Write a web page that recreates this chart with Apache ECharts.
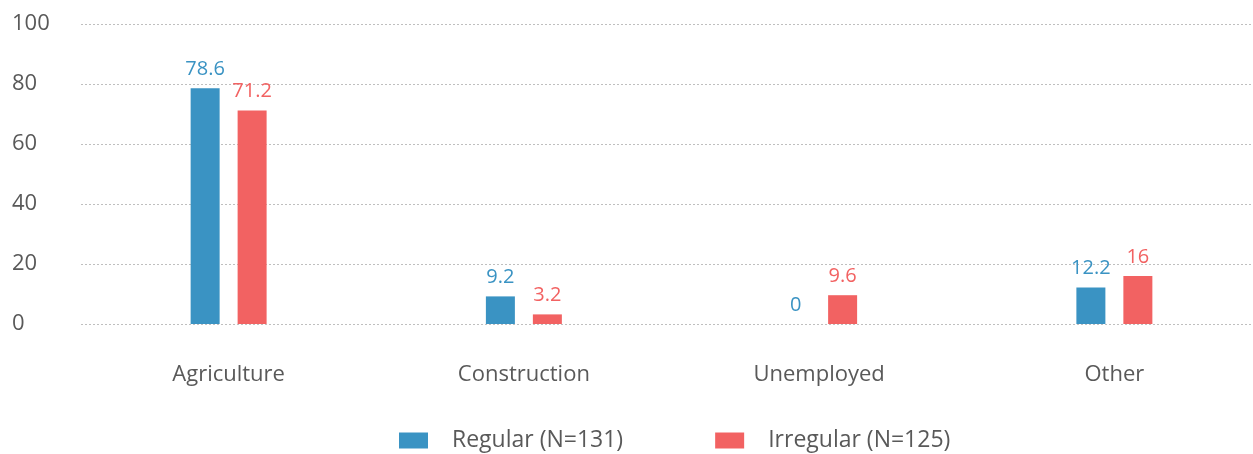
<!DOCTYPE html>
<html>
<head>
<meta charset="utf-8">
<script src="https://cdn.jsdelivr.net/npm/echarts@6/dist/echarts.min.js"></script>
<style>
html, body { margin: 0; padding: 0; background: #fff; }
#chart { width: 1253px; height: 454px; }
</style>
</head>
<body>
<div id="chart"></div>
<script>
var categories = ['Agriculture', 'Construction', 'Unemployed', 'Other'];
var regular = [78.6, 9.2, 0, 12.2];
var irregular = [71.2, 3.2, 9.6, 16];
var seriesNames = ['Regular (N=131)', 'Irregular (N=125)'];

var font = '"Open Sans", sans-serif';
var chart = echarts.init(document.getElementById('chart'));
chart.setOption({
    color: ['#3A93C3', '#F26262'],
    animation: false,
    grid: {
        left: 81,
        top: 24,
        width: 1181,
        height: 300,
        outerBoundsMode: 'none'
    },
    legend: {
        top: 429,
        left: 399,
        padding: 0,
        itemWidth: 29,
        itemHeight: 16,
        itemGap: 92,
        icon: 'rect',
        textStyle: { color: '#595959', fontSize: 23, fontFamily: font, padding: [0, 0, 0, 19] },
        data: seriesNames
    },
    xAxis: {
        type: 'category',
        data: categories,
        axisLine: { show: false },
        axisTick: { show: false },
        axisLabel: { color: '#595959', fontSize: 22, fontFamily: font, margin: 40 }
    },
    yAxis: {
        type: 'value',
        min: 0,
        max: 100,
        interval: 20,
        axisLine: { show: false },
        axisTick: { show: false },
        axisLabel: { color: '#595959', fontSize: 22, fontFamily: font, align: 'left', margin: 69 },
        splitLine: { lineStyle: { color: '#bfbfbf', type: [2, 2], width: 1 } }
    },
    series: [{
        name: seriesNames[0],
        type: 'bar',
        barWidth: 29,
        barGap: '62%',
        data: regular,
        label: { show: true, position: 'top', color: '#3A93C3', fontSize: 20, fontFamily: font, distance: 9 }
    }, {
        name: seriesNames[1],
        type: 'bar',
        barWidth: 29,
        data: irregular,
        label: { show: true, position: 'top', color: '#F26262', fontSize: 20, fontFamily: font, distance: 9 }
    }]
});
</script>
</body>
</html>
